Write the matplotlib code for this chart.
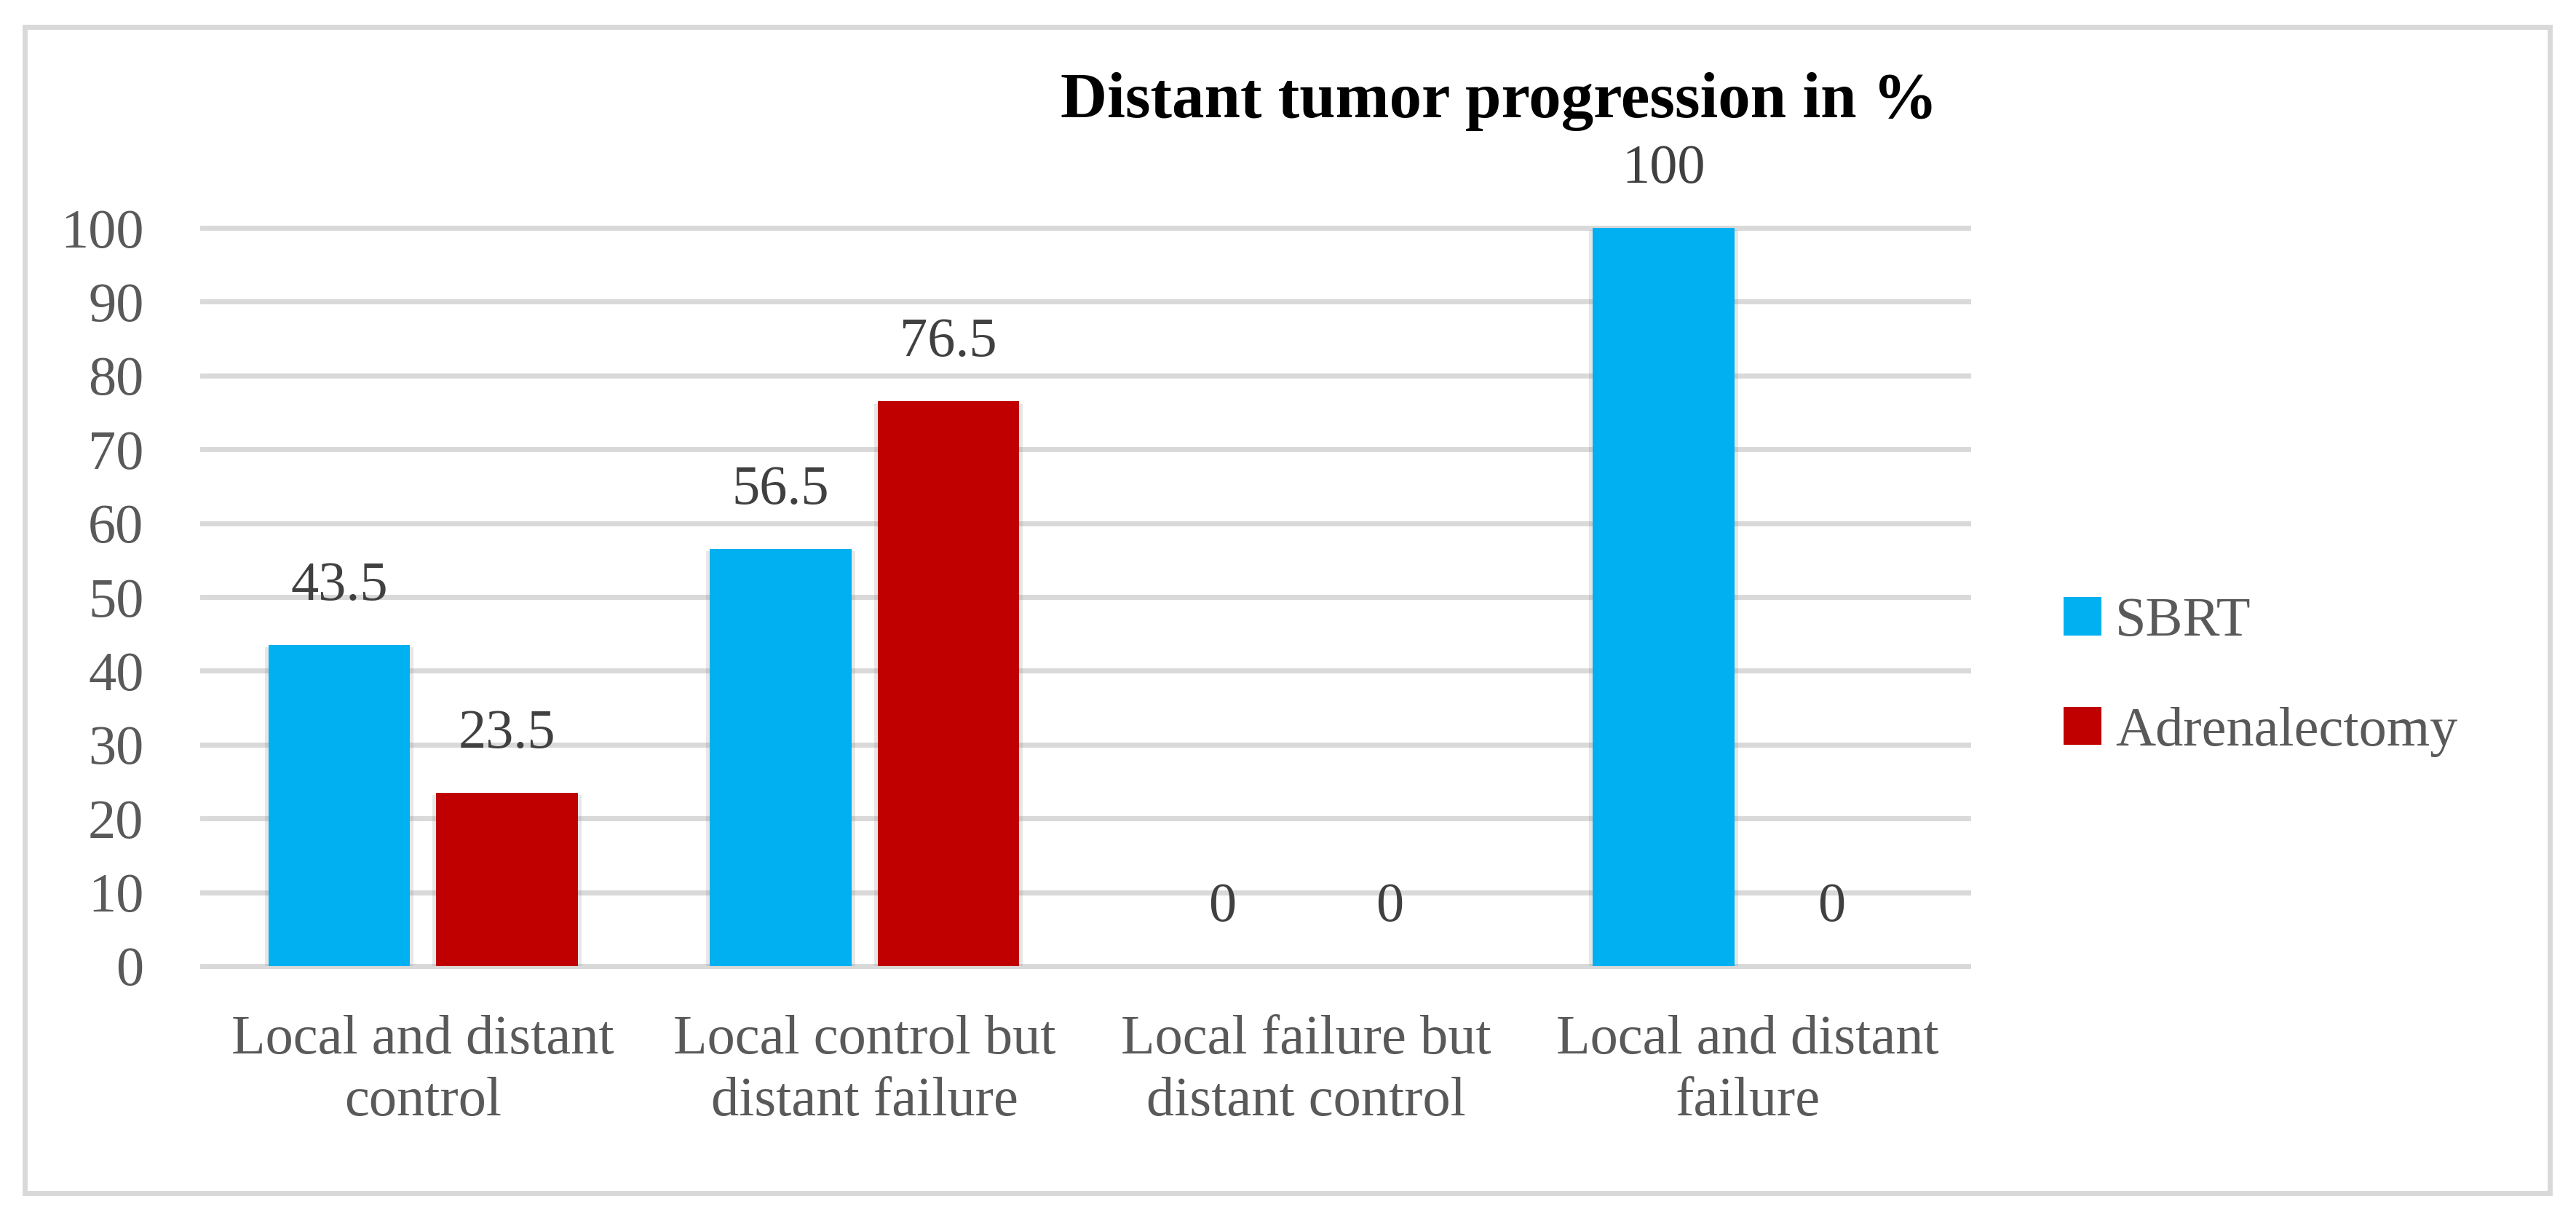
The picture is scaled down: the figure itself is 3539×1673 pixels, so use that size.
import numpy as np
from matplotlib import pyplot as plt
from matplotlib.patches import Rectangle, Patch
import matplotlib.patheffects as pe

# Chart data
categories = [
    "Local and distant\ncontrol",
    "Local control but\ndistant failure",
    "Local failure but\ndistant control",
    "Local and distant\nfailure",
]
sbrt = [43.5, 56.5, 0, 100]
adrenalectomy = [23.5, 76.5, 0, 0]
series_names = ["SBRT", "Adrenalectomy"]
series_colors = ["#00B0F0", "#C00000"]
yticks = [0, 10, 20, 30, 40, 50, 60, 70, 80, 90, 100]

plt.rcParams["font.family"] = ["Liberation Serif", "DejaVu Serif"]

W, H, DPI = 3539, 1673, 200
fig = plt.figure(figsize=(W / DPI, H / DPI), dpi=DPI)

# axes placed in pixel terms of the reference
left, right, top, bottom = 278, 2704, 313, 1327
ax = fig.add_axes([left / W, 1 - bottom / H, (right - left) / W, (bottom - top) / H])

x = np.arange(len(categories))
width = 0.32
offset = 0.19
shadow = [pe.SimplePatchShadow(offset=(1.8, -1.2), shadow_rgbFace="#7f7f7f", alpha=0.18),
          pe.SimplePatchShadow(offset=(-1.8, -1.2), shadow_rgbFace="#7f7f7f", alpha=0.18),
          pe.Normal()]
bars1 = ax.bar(x - offset, sbrt, width, color=series_colors[0], zorder=3)
bars2 = ax.bar(x + offset, adrenalectomy, width, color=series_colors[1], zorder=3)

for bars in (bars1, bars2):
    for b in bars:
        v = b.get_height()
        if v > 0:
            b.set_path_effects(shadow)
        ax.annotate(f"{v:g}", (b.get_x() + b.get_width() / 2, v),
                    xytext=(0, 29), textcoords="offset points",
                    ha="center", va="center", fontsize=27.5, color="#404040")

ax.set_xlim(-0.5, len(categories) - 0.5)
ax.set_ylim(0, 100)
ax.set_yticks(yticks)
ax.set_xticks(x)
ax.set_xticklabels(categories, linespacing=1.3)
ax.tick_params(axis="y", length=0, pad=29, labelsize=27.5, labelcolor="#595959")
ax.tick_params(axis="x", length=0, pad=24, labelsize=27.5, labelcolor="#595959")

ax.yaxis.grid(True, color="#D9D9D9", linewidth=2.5)
for gl in ax.get_ygridlines():
    gl.set_clip_on(False)
ax.set_axisbelow(True)
for s in ax.spines.values():
    s.set_visible(False)

fig.text(2059 / W, 1 - 139 / H, "Distant tumor progression in %", ha="center", va="center",
         fontsize=32, fontweight="bold", color="black")

handles = [Patch(facecolor=c, edgecolor="none") for c in series_colors]
fig.legend(handles=handles, labels=series_names,
           loc="center left", bbox_to_anchor=(2835 / W, 1 - 930 / H), frameon=False,
           fontsize=27.5, labelcolor="#595959", handlelength=0.68, handleheight=0.68,
           handletextpad=0.25, labelspacing=1.07, borderpad=0, borderaxespad=0)

# outer frame
fig.patches.append(Rectangle((34 / W, 34 / H), (3503 - 34) / W, (1636 - 34) / H,
                             transform=fig.transFigure, fill=False,
                             edgecolor="#D9D9D9", linewidth=2.5))

fig.savefig("out.png", dpi=DPI)
